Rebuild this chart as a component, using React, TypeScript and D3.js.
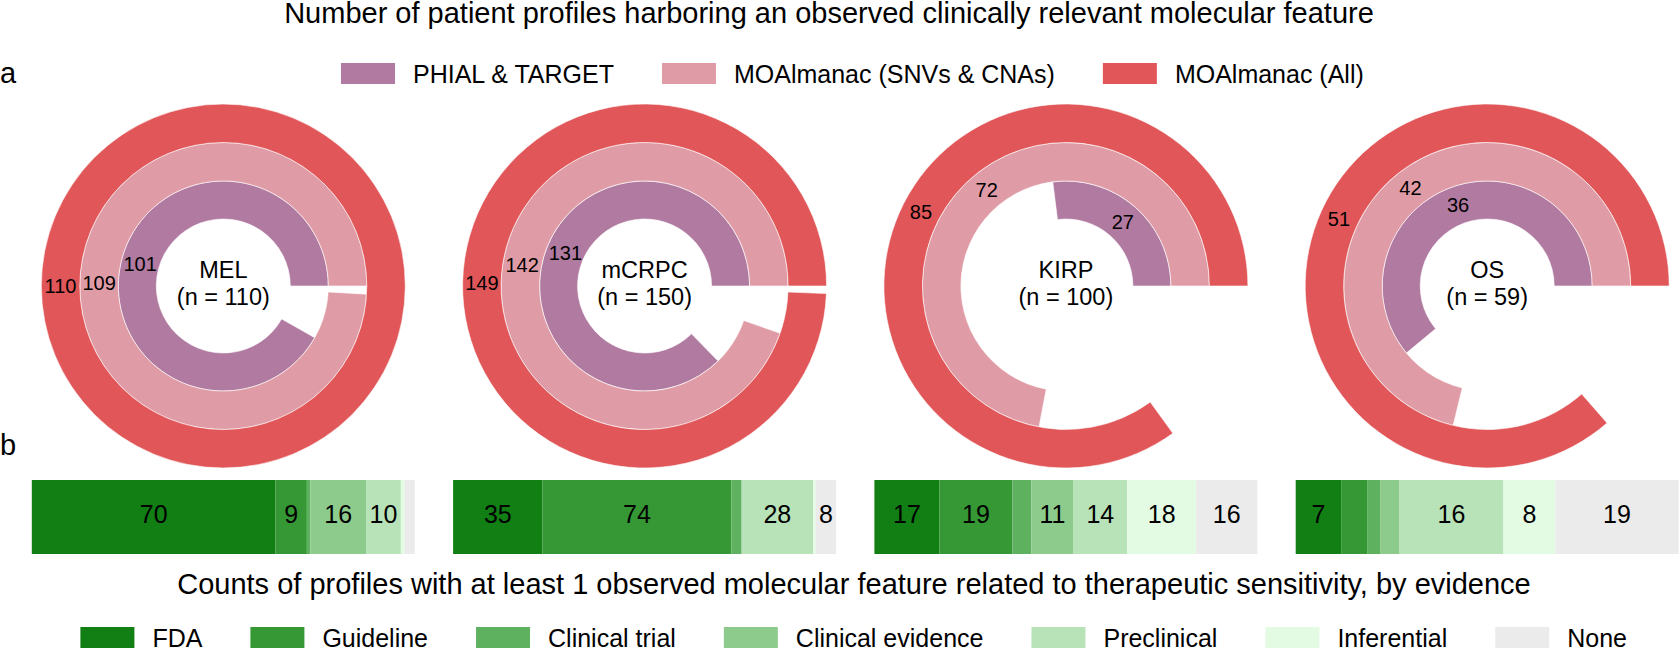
import React, { useEffect, useRef } from 'react';
import * as d3 from 'd3';

const W = 1679;
const H = 649;

const mainTitle = 'Number of patient profiles harboring an observed clinically relevant molecular feature';
const barTitle = 'Counts of profiles with at least 1 observed molecular feature related to therapeutic sensitivity, by evidence';

const cohorts = ['MEL', 'mCRPC', 'KIRP', 'OS'];
const cohortN = [110, 150, 100, 59];

const ringSeries = ['PHIAL & TARGET', 'MOAlmanac (SNVs & CNAs)', 'MOAlmanac (All)'];
const phialTarget = [101, 131, 27, 36];
const moaSnvCna = [109, 142, 72, 42];
const moaAll = [110, 149, 85, 51];
const ringColors = ['#B07AA1', '#E09CA6', '#E15759'];

const evidenceLevels = ['FDA', 'Guideline', 'Clinical trial', 'Clinical evidence', 'Preclinical', 'Inferential', 'None'];
const melEvidence = [70, 9, 1, 16, 10, 1, 3];
const mcrpcEvidence = [35, 74, 4, 0, 28, 1, 8];
const kirpEvidence = [17, 19, 5, 11, 14, 18, 16];
const osEvidence = [7, 4, 2, 3, 16, 8, 19];
const evidenceColors = ['#117F14', '#359835', '#5EB25F', '#8DCB8D', '#B8E3B8', '#E3FAE3', '#EBEBEB'];

const FONT = "'Liberation Sans', Arial, Helvetica, sans-serif";

export default function App() {
  const ref = useRef<SVGSVGElement>(null);

  useEffect(() => {
    const svg = d3.select(ref.current);
    svg.selectAll('*').remove();
    svg.attr('font-family', FONT);

    // titles & panel letters
    svg.append('text').attr('x', 829).attr('y', 23).attr('text-anchor', 'middle')
      .attr('font-size', 29).attr('fill', '#000').text(mainTitle);
    svg.append('text').attr('x', 0).attr('y', 83).attr('font-size', 29).text('a');
    svg.append('text').attr('x', 0).attr('y', 455).attr('font-size', 29).text('b');
    svg.append('text').attr('x', 854).attr('y', 594).attr('text-anchor', 'middle')
      .attr('font-size', 29).attr('fill', '#000').text(barTitle);

    // legend helper
    const legend = (labels: string[], colors: string[], x0: number, ySq: number, yText: number) => {
      let x = x0;
      labels.forEach((lab, i) => {
        svg.append('rect').attr('x', x).attr('y', ySq).attr('width', 54).attr('height', 21)
          .attr('fill', colors[i]);
        const t = svg.append('text').attr('x', x + 72).attr('y', yText).attr('font-size', 25)
          .attr('fill', '#000').text(lab);
        const w = (t.node() as SVGTextElement).getComputedTextLength();
        x = x + 72 + w + 48;
      });
    };
    legend(ringSeries, ringColors, 341, 63, 83);
    legend(evidenceLevels, evidenceColors, 80.4, 627, 647);

    // donuts
    const cx = d3.scalePoint<string>().domain(cohorts).range([223.3, 1487.2]);
    const cy = 286;
    const ringR = [67, 105, 143.5, 182];
    const ringValues = [phialTarget, moaSnvCna, moaAll];

    cohorts.forEach((c, i) => {
      const n = cohortN[i];
      const ang = d3.scaleLinear().domain([0, n]).range([0, 2 * Math.PI]);
      const g = svg.append('g').attr('transform', `translate(${cx(c)},${cy})`);
      ringValues.forEach((vals, k) => {
        const v = vals[i];
        const a = ang(v);
        const arc = d3.arc()
          .innerRadius(ringR[k])
          .outerRadius(ringR[k + 1])
          .startAngle(Math.PI / 2 - a)
          .endAngle(Math.PI / 2);
        g.append('path').attr('d', arc({} as any) as string)
          .attr('fill', ringColors[k]).attr('stroke', '#fff').attr('stroke-width', 0.6);
      });
      ringValues.forEach((vals, k) => {
        const v = vals[i];
        const mid = ang(v) / 2;
        const rm = (ringR[k] + ringR[k + 1]) / 2;
        g.append('text')
          .attr('x', rm * Math.cos(mid))
          .attr('y', -rm * Math.sin(mid) + 0.36 * 20)
          .attr('text-anchor', 'middle').attr('font-size', 20).attr('fill', '#000')
          .text(String(v));
      });
      g.append('text').attr('x', 0).attr('y', -8).attr('text-anchor', 'middle')
        .attr('font-size', 23.5).attr('fill', '#000').text(c);
      g.append('text').attr('x', 0).attr('y', 19).attr('text-anchor', 'middle')
        .attr('font-size', 23.5).attr('fill', '#000').text(`(n = ${n})`);
    });

    // evidence bars
    const evidence = [melEvidence, mcrpcEvidence, kirpEvidence, osEvidence];
    const barW = 383;
    const y0 = 480, y1 = 554;
    cohorts.forEach((c, i) => {
      const n = cohortN[i];
      const center = cx(c) as number;
      const xs = d3.scaleLinear().domain([0, n]).range([center - barW / 2, center + barW / 2]);
      const vals = evidence[i];
      const cum = [0, ...Array.from(d3.cumsum(vals))];
      vals.forEach((v, j) => {
        if (v <= 0) return;
        svg.append('rect')
          .attr('x', xs(cum[j])).attr('y', y0)
          .attr('width', xs(cum[j + 1]) - xs(cum[j])).attr('height', y1 - y0)
          .attr('fill', evidenceColors[j]);
      });
      vals.forEach((v, j) => {
        if (v < 6) return;
        svg.append('text')
          .attr('x', (xs(cum[j]) + xs(cum[j + 1])) / 2).attr('y', 523)
          .attr('text-anchor', 'middle').attr('font-size', 25).attr('fill', '#000')
          .text(String(v));
      });
    });
  }, []);

  return (
    <svg ref={ref} width={W} height={H}
      style={{ position: 'absolute', left: 0, top: 0, background: '#fff' }} />
  );
}
